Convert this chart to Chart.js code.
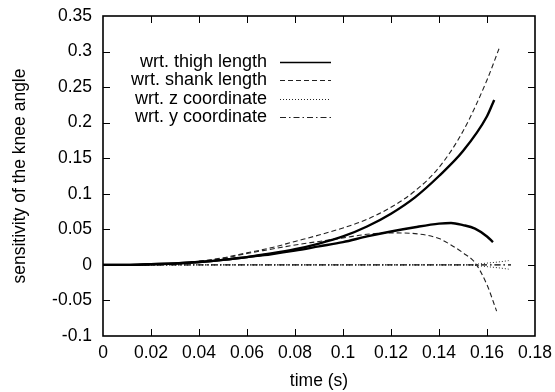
<!DOCTYPE html>
<html><head><meta charset="utf-8">
<script src="https://cdn.jsdelivr.net/npm/chart.js@4"></script>
<style>html,body{margin:0;padding:0;background:#fff;}</style>
</head><body>
<canvas id="c" width="555" height="392"></canvas>
<script>
const xTicks = [0,0.02,0.04,0.06,0.08,0.10,0.12,0.14,0.16,0.18];
const xTickLabels = ['0','0.02','0.04','0.06','0.08','0.1','0.12','0.14','0.16','0.18'];
const yTicks = [-0.1,-0.05,0,0.05,0.10,0.15,0.20,0.25,0.30,0.35];
const yTickLabels = ['-0.1','-0.05','0','0.05','0.1','0.15','0.2','0.25','0.3','0.35'];
const seriesNames = ['wrt. thigh length','wrt. shank length','wrt. z coordinate','wrt. y coordinate'];

const tThigh1 = [0,0.01,0.02,0.03,0.04,0.05,0.06,0.07,0.08,0.09,0.10,0.11,0.12,0.13,0.14,0.15,0.16,0.163];
const thigh1  = [0,0,0.001,0.002,0.004,0.007,0.011,0.016,0.022,0.030,0.040,0.054,0.072,0.095,0.125,0.160,0.209,0.232];
const tThigh2 = [0,0.01,0.02,0.03,0.04,0.05,0.06,0.07,0.08,0.09,0.10,0.11,0.12,0.13,0.14,0.145,0.15,0.155,0.16,0.1625];
const thigh2  = [0,0,0.001,0.002,0.004,0.007,0.011,0.015,0.020,0.026,0.032,0.040,0.047,0.053,0.058,0.059,0.056,0.051,0.040,0.032];

const tShank1 = [0,0.01,0.02,0.03,0.04,0.05,0.06,0.07,0.08,0.09,0.10,0.11,0.12,0.13,0.14,0.15,0.16,0.165];
const shank1  = [0,0,0.001,0.002,0.005,0.010,0.017,0.024,0.033,0.042,0.052,0.064,0.081,0.104,0.137,0.188,0.260,0.304];
const tShank2 = [0,0.01,0.02,0.03,0.04,0.05,0.06,0.07,0.08,0.09,0.10,0.11,0.12,0.13,0.14,0.145,0.15,0.155,0.16,0.164];
const shank2  = [0,0,0.001,0.002,0.005,0.009,0.016,0.022,0.028,0.033,0.038,0.043,0.045,0.044,0.037,0.028,0.017,0.003,-0.028,-0.065];

const tZ = [0,0.03,0.06,0.09,0.12,0.15,0.155,0.16,0.165,0.169];
const zCoord1 = [0,0,0,0,0,0,0.0008,0.0025,0.0042,0.006];
const zCoord2 = [0,0,0,0,0,0,-0.0008,-0.0025,-0.0042,-0.006];

const tY = [0,0.04,0.08,0.12,0.16,0.17];
const yCoord1 = [0,0,0,0,0,0];
const yCoord2 = [0,0,0,0,0,0];

const pts = (t, v) => t.map((tt, i) => ({x: tt, y: v[i]}));
const FONT = '"Liberation Sans", Arial, Helvetica, sans-serif';

const styles = [
  {borderColor:'#000', borderWidth:2.4, borderDash:[]},
  {borderColor:'#222', borderWidth:1.1, borderDash:[5,3]},
  {borderColor:'#222', borderWidth:1.0, borderDash:[1,2]},
  {borderColor:'#222', borderWidth:1.0, borderDash:[6,3,1.5,3]}
];
function ds(series, t, v) {
  return Object.assign({label: seriesNames[series], data: pts(t, v), pointRadius: 0,
    fill: false, cubicInterpolationMode: 'monotone'}, styles[series]);
}

const framePlugin = {
  id: 'frame',
  afterDatasetsDraw(chart) {
    const {ctx, chartArea: a, scales: {x, y}} = chart;
    ctx.save();
    ctx.strokeStyle = '#000';
    ctx.lineWidth = 1;
    ctx.setLineDash([]);
    ctx.beginPath();
    x.ticks.forEach(t => {
      const px = Math.round(x.getPixelForValue(t.value)) + 0.5;
      if (px <= a.left + 2 || px >= a.right - 2) return;
      ctx.moveTo(px, a.bottom); ctx.lineTo(px, a.bottom - 7);
      ctx.moveTo(px, a.top); ctx.lineTo(px, a.top + 7);
    });
    y.ticks.forEach(t => {
      const py = Math.round(y.getPixelForValue(t.value)) + 0.5;
      if (py <= a.top + 2 || py >= a.bottom - 2) return;
      ctx.moveTo(a.left, py); ctx.lineTo(a.left + 7, py);
      ctx.moveTo(a.right, py); ctx.lineTo(a.right - 7, py);
    });
    ctx.stroke();
    ctx.lineWidth = 1.6;
    ctx.strokeRect(a.left, a.top, a.right - a.left, a.bottom - a.top);
    ctx.restore();
  },
  afterDraw(chart) {
    const {ctx, chartArea: a} = chart;
    ctx.save();
    ctx.font = '18px ' + FONT;
    ctx.textAlign = 'right';
    ctx.textBaseline = 'middle';
    ctx.fillStyle = '#000';
    const textRight = a.left + 164;
    const lineStart = a.left + 177;
    const lineEnd = a.left + 228;
    seriesNames.forEach((name, i) => {
      const yy = a.top + 46 + i * 18.3;
      ctx.fillText(name, textRight, yy);
      const s = styles[i];
      ctx.strokeStyle = s.borderColor;
      ctx.lineWidth = i === 0 ? 1.3 : 1;
      ctx.setLineDash(s.borderDash);
      ctx.beginPath();
      ctx.moveTo(lineStart, Math.round(yy) + 0.5);
      ctx.lineTo(lineEnd, Math.round(yy) + 0.5);
      ctx.stroke();
    });
    ctx.restore();
  }
};

new Chart(document.getElementById('c'), {
  type: 'line',
  data: {
    datasets: [
      ds(0, tThigh1, thigh1), ds(0, tThigh2, thigh2),
      ds(1, tShank1, shank1), ds(1, tShank2, shank2),
      ds(2, tZ, zCoord1), ds(2, tZ, zCoord2),
      ds(3, tY, yCoord1), ds(3, tY, yCoord2)
    ]
  },
  options: {
    responsive: false,
    animation: false,
    devicePixelRatio: 1,
    layout: {padding: {left: 0, right: 20, top: 16, bottom: 0}},
    plugins: {legend: {display: false}, tooltip: {enabled: false}},
    scales: {
      x: {
        type: 'linear', min: 0, max: 0.18,
        afterBuildTicks: s => { s.ticks = xTicks.map(v => ({value: v})); },
        afterFit: s => { s.height = 56; s.paddingLeft = 0; s.paddingRight = 0; },
        grid: {display: false, drawTicks: false},
        border: {display: false},
        ticks: {callback: (v, i) => xTickLabels[i], font: {family: FONT, size: 17.5}, color: '#000', padding: 7, maxRotation: 0, autoSkip: false},
        title: {display: true, text: 'time (s)', font: {family: FONT, size: 17.5}, color: '#000', padding: {top: 0, bottom: 0}}
      },
      y: {
        type: 'linear', min: -0.1, max: 0.35,
        afterBuildTicks: s => { s.ticks = yTicks.map(v => ({value: v})); },
        afterFit: s => { s.width = 103; s.paddingTop = 0; s.paddingBottom = 0; },
        grid: {display: false, drawTicks: false},
        border: {display: false},
        ticks: {callback: (v, i) => yTickLabels[i], font: {family: FONT, size: 17.5}, color: '#000', padding: 11, autoSkip: false},
        title: {display: true, text: 'sensitivity of the knee angle', font: {family: FONT, size: 17.5}, color: '#000', padding: {top: 10, bottom: 0}}
      }
    }
  },
  plugins: [framePlugin]
});
</script>
</body></html>
